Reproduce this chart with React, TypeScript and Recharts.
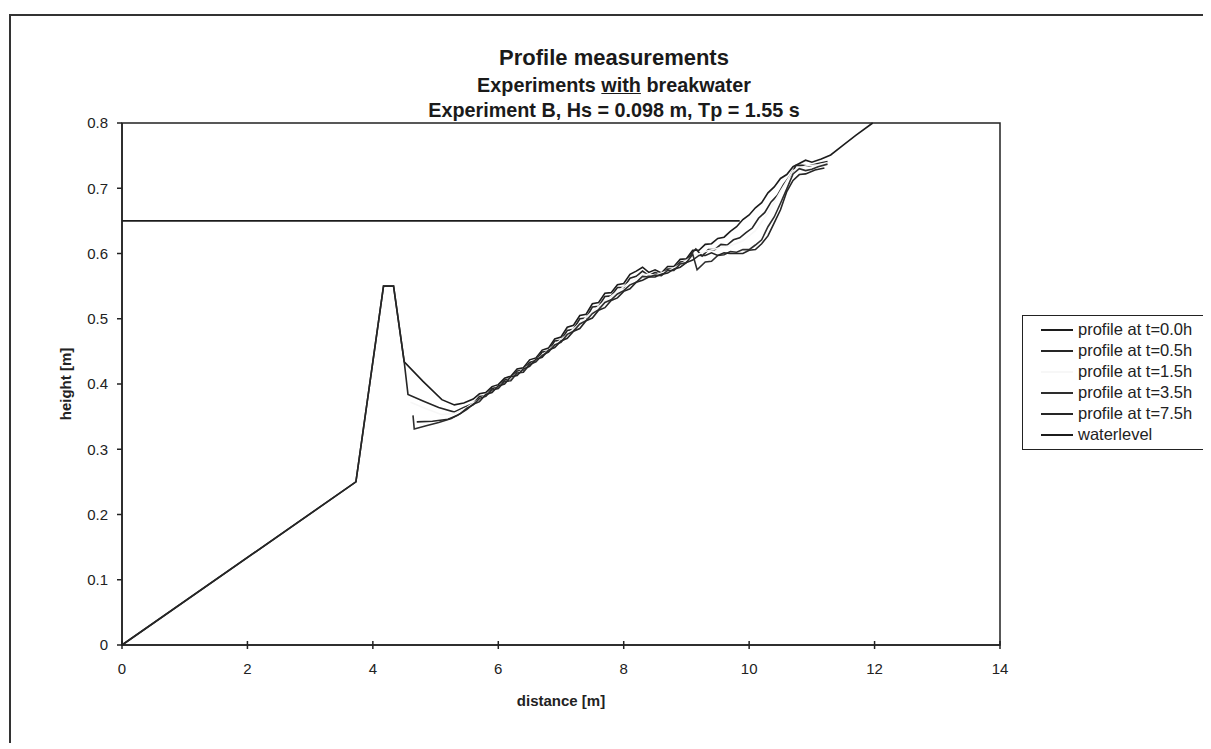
import React from "react";
import {
  LineChart,
  Line,
  XAxis,
  YAxis,
  Legend,
  ReferenceArea,
} from "recharts";

// axis ticks
const xTicks = [0, 2, 4, 6, 8, 10, 12, 14];
const yTicks = [0, 0.1, 0.2, 0.3, 0.4, 0.5, 0.6, 0.7, 0.8];

// profiles, [distance m, height m]
const profile00: [number, number][] = [
  [0, 0], [3.73, 0.25], [4.17, 0.55], [4.33, 0.55], [4.5, 0.434], [4.8, 0.404],
  [5.1, 0.376], [5.3, 0.368], [5.45, 0.371], [5.6, 0.377], [5.7, 0.385],
  [5.8, 0.387], [5.9, 0.396], [6.0, 0.399], [6.1, 0.409], [6.2, 0.412],
  [6.3, 0.423], [6.4, 0.425], [6.5, 0.437], [6.6, 0.44], [6.7, 0.452],
  [6.8, 0.455], [6.9, 0.469], [7.0, 0.472], [7.1, 0.487], [7.2, 0.49],
  [7.3, 0.505], [7.4, 0.507], [7.5, 0.523], [7.6, 0.525], [7.7, 0.539],
  [7.8, 0.54], [7.9, 0.552], [8.0, 0.554], [8.1, 0.568], [8.2, 0.573],
  [8.3, 0.579], [8.4, 0.571], [8.5, 0.575], [8.6, 0.57], [8.7, 0.58],
  [8.8, 0.58], [8.9, 0.591], [9.0, 0.592], [9.1, 0.605], [9.2, 0.605],
  [9.3, 0.614], [9.4, 0.615], [9.5, 0.623], [9.6, 0.625], [9.7, 0.634],
  [9.8, 0.641], [9.9, 0.652], [10.0, 0.659], [10.1, 0.67], [10.2, 0.678],
  [10.3, 0.693], [10.4, 0.702], [10.5, 0.715], [10.6, 0.721], [10.7, 0.733],
  [10.8, 0.738], [10.9, 0.743], [11.0, 0.74], [11.15, 0.745], [11.3, 0.751],
  [11.5, 0.766], [11.7, 0.781], [11.97, 0.8],
];

const profile05: [number, number][] = [
  [0, 0], [3.73, 0.25], [4.17, 0.55], [4.33, 0.55], [4.5, 0.434], [4.56, 0.384],
  [4.8, 0.374], [5.05, 0.364], [5.3, 0.357], [5.45, 0.364], [5.6, 0.37],
  [5.7, 0.381], [5.8, 0.382], [5.9, 0.393], [6.0, 0.395], [6.1, 0.406],
  [6.2, 0.408], [6.3, 0.42], [6.4, 0.421], [6.5, 0.433], [6.6, 0.436],
  [6.7, 0.449], [6.8, 0.45], [6.9, 0.466], [7.0, 0.467], [7.1, 0.482],
  [7.2, 0.484], [7.3, 0.5], [7.4, 0.501], [7.5, 0.518], [7.6, 0.519],
  [7.7, 0.534], [7.8, 0.535], [7.9, 0.548], [8.0, 0.548], [8.1, 0.562],
  [8.2, 0.565], [8.3, 0.573], [8.4, 0.566], [8.5, 0.571], [8.6, 0.567],
  [8.7, 0.576], [8.8, 0.576], [8.9, 0.587], [9.0, 0.588], [9.1, 0.602],
  [9.15, 0.607], [9.25, 0.596], [9.35, 0.606], [9.45, 0.606], [9.55, 0.614],
  [9.65, 0.613], [9.75, 0.621], [9.85, 0.624], [9.95, 0.632], [10.05, 0.639],
  [10.15, 0.654], [10.25, 0.663], [10.35, 0.679], [10.45, 0.689], [10.55, 0.706],
  [10.65, 0.719], [10.75, 0.735], [10.85, 0.735], [10.95, 0.734], [11.1, 0.738],
  [11.25, 0.741],
];

const profile15: [number, number][] = [
  [4.6, 0.372], [4.85, 0.362], [5.1, 0.353], [5.3, 0.355], [5.5, 0.364],
  [5.7, 0.377], [5.9, 0.389], [6.1, 0.402], [6.3, 0.416], [6.5, 0.429],
  [6.7, 0.444], [6.9, 0.46], [7.1, 0.476], [7.3, 0.493], [7.5, 0.511],
  [7.7, 0.527], [7.9, 0.542], [8.1, 0.556], [8.3, 0.568], [8.5, 0.567],
  [8.7, 0.573], [8.9, 0.583], [9.1, 0.596], [9.3, 0.603], [9.5, 0.608],
  [9.7, 0.612], [9.9, 0.619], [10.1, 0.635], [10.3, 0.662], [10.5, 0.695],
  [10.7, 0.727], [10.9, 0.734], [11.1, 0.736], [11.25, 0.739],
];

const profile35: [number, number][] = [
  [4.64, 0.352], [4.66, 0.331], [4.85, 0.336], [5.05, 0.341], [5.25, 0.347],
  [5.4, 0.355], [5.5, 0.363], [5.6, 0.368], [5.7, 0.378], [5.8, 0.381],
  [5.9, 0.391], [6.0, 0.393], [6.1, 0.404], [6.2, 0.405], [6.3, 0.417],
  [6.4, 0.418], [6.5, 0.43], [6.6, 0.434], [6.7, 0.444], [6.8, 0.449],
  [6.9, 0.46], [7.0, 0.464], [7.1, 0.476], [7.2, 0.481], [7.3, 0.492],
  [7.4, 0.497], [7.5, 0.508], [7.6, 0.514], [7.7, 0.525], [7.8, 0.529],
  [7.9, 0.538], [8.0, 0.543], [8.1, 0.552], [8.2, 0.556], [8.3, 0.565],
  [8.4, 0.564], [8.5, 0.567], [8.6, 0.566], [8.7, 0.574], [8.8, 0.574],
  [8.9, 0.584], [9.0, 0.586], [9.1, 0.599], [9.17, 0.575], [9.3, 0.587],
  [9.4, 0.588], [9.5, 0.597], [9.6, 0.598], [9.7, 0.603], [9.8, 0.602],
  [9.9, 0.606], [10.0, 0.606], [10.1, 0.613], [10.2, 0.621], [10.3, 0.641],
  [10.4, 0.656], [10.5, 0.677], [10.6, 0.699], [10.7, 0.722], [10.8, 0.73],
  [10.9, 0.727], [11.0, 0.729], [11.1, 0.733], [11.25, 0.737],
];

const profile75: [number, number][] = [
  [4.7, 0.342], [4.95, 0.343], [5.2, 0.346], [5.35, 0.352], [5.5, 0.361],
  [5.6, 0.369], [5.7, 0.373], [5.8, 0.384], [5.9, 0.387], [6.0, 0.397],
  [6.1, 0.4], [6.2, 0.411], [6.3, 0.413], [6.4, 0.423], [6.5, 0.427],
  [6.6, 0.438], [6.7, 0.441], [6.8, 0.452], [6.9, 0.456], [7.0, 0.466],
  [7.1, 0.47], [7.2, 0.481], [7.3, 0.485], [7.4, 0.497], [7.5, 0.501],
  [7.6, 0.513], [7.7, 0.517], [7.8, 0.528], [7.9, 0.532], [8.0, 0.542],
  [8.1, 0.546], [8.2, 0.556], [8.3, 0.559], [8.4, 0.564], [8.5, 0.564],
  [8.6, 0.568], [8.7, 0.57], [8.8, 0.576], [8.9, 0.579], [9.0, 0.586],
  [9.1, 0.59], [9.2, 0.597], [9.3, 0.597], [9.4, 0.601], [9.5, 0.597],
  [9.6, 0.601], [9.7, 0.6], [9.8, 0.6], [9.9, 0.6], [10.0, 0.605],
  [10.1, 0.606], [10.2, 0.615], [10.3, 0.627], [10.4, 0.647], [10.5, 0.667],
  [10.6, 0.695], [10.7, 0.712], [10.8, 0.721], [10.9, 0.722], [11.05, 0.728],
  [11.2, 0.731],
];

const waterlevel: [number, number][] = [
  [0, 0.65], [9.85, 0.65],
];

const seriesNames = [
  "profile at t=0.0h",
  "profile at t=0.5h",
  "profile at t=1.5h",
  "profile at t=3.5h",
  "profile at t=7.5h",
  "waterlevel",
];
const seriesColors = ["#1c1c1c", "#262626", "#f7f7f7", "#2e2e2e", "#262626", "#1c1c1c"];
const seriesData = [profile00, profile05, profile15, profile35, profile75, waterlevel];

const toPoints = (arr: [number, number][]) => arr.map(([x, y]) => ({ x, y }));

const font = '"Liberation Sans", Arial, Helvetica, sans-serif';

function LegendBox() {
  return (
    <div
      style={{
        border: "1.5px solid #222",
        background: "#fff",
        padding: "3px 0 4px 0",
        fontFamily: font,
        fontSize: 16.5,
        color: "#222",
        boxSizing: "border-box",
      }}
    >
      {seriesNames.map((name, i) => (
        <div key={name} style={{ display: "flex", alignItems: "center", height: 21 }}>
          <svg width={55} height={21} style={{ flex: "none" }}>
            <line x1={18} x2={50} y1={11} y2={11} stroke={seriesColors[i]} strokeWidth={2} />
          </svg>
          <span style={{ whiteSpace: "nowrap" }}>{name}</span>
        </div>
      ))}
    </div>
  );
}

export default function App() {
  return (
    <div style={{ position: "relative", width: 1203, height: 735, fontFamily: font }}>
      {/* scanned page frame */}
      <div
        style={{
          position: "absolute",
          left: 1,
          top: 6,
          width: 1202,
          height: 729,
          borderTop: "2px solid #333",
          borderLeft: "2px solid #333",
          boxSizing: "border-box",
        }}
      />
      <div
        style={{
          position: "absolute",
          left: 206,
          width: 800,
          top: 36,
          textAlign: "center",
          color: "#1a1a1a",
          fontWeight: "bold",
        }}
      >
        <div style={{ fontSize: 22, lineHeight: "28px" }}>Profile measurements</div>
        <div style={{ fontSize: 19.8, lineHeight: "26px" }}>
          Experiments <u>with</u> breakwater
        </div>
        <div style={{ fontSize: 19.8, lineHeight: "25px" }}>
          Experiment B, Hs = 0.098 m, Tp = 1.55 s
        </div>
      </div>
      <LineChart
        width={1203}
        height={735}
        margin={{ top: 115, right: 211, bottom: 38, left: 54 }}
        style={{ position: "absolute", left: 0, top: 0 }}
      >
        <XAxis
          type="number"
          dataKey="x"
          domain={[0, 14]}
          ticks={xTicks}
          interval={0}
          height={60}
          tickSize={8}
          tickMargin={10}
          tickLine={{ transform: "translate(0,-4)", stroke: "#222" }}
          stroke="#222"
          strokeWidth={1.5}
          tick={{ fontSize: 15, fill: "#222", fontFamily: font }}
          label={{
            value: "distance [m]",
            position: "insideBottom",
            offset: -1,
            style: { fontSize: 15, fontWeight: "bold", fill: "#222", fontFamily: font },
          }}
        />
        <YAxis
          type="number"
          dataKey="y"
          domain={[0, 0.8]}
          ticks={yTicks}
          interval={0}
          width={60}
          tickSize={5}
          tickMargin={9}
          stroke="#222"
          strokeWidth={1.5}
          tick={{ fontSize: 15, fill: "#222", fontFamily: font }}
          tickFormatter={(v: number) => (v === 0 ? "0" : v.toFixed(1))}
          label={{
            value: "height [m]",
            angle: -90,
            position: "insideLeft",
            offset: 4,
            style: {
              fontSize: 15,
              fontWeight: "bold",
              fill: "#222",
              fontFamily: font,
              textAnchor: "middle",
            },
          }}
        />
        <ReferenceArea
          x1={0}
          x2={14}
          y1={0}
          y2={0.8}
          fill="none"
          stroke="#222"
          strokeWidth={1.5}
        />
        {seriesNames.map((name, i) => (
          <Line
            key={name}
            name={name}
            data={toPoints(seriesData[i])}
            dataKey="y"
            type="linear"
            stroke={seriesColors[i]}
            strokeWidth={1.6}
            dot={false}
            activeDot={false}
            isAnimationActive={false}
          />
        ))}
        <Legend
          layout="horizontal"
          align="center"
          verticalAlign="middle"
          wrapperStyle={{ left: 1014, top: 307, width: 182 }}
          content={() => <LegendBox />}
        />
      </LineChart>
    </div>
  );
}
